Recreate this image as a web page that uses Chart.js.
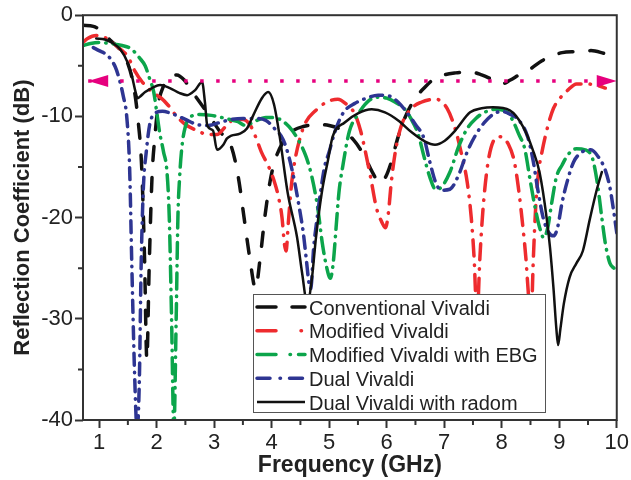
<!DOCTYPE html>
<html>
<head>
<meta charset="utf-8">
<script src="https://cdn.jsdelivr.net/npm/chart.js@4.4.1/dist/chart.umd.min.js"></script>
<style>
  html, body { margin: 0; padding: 0; background: #fff; }
</style>
</head>
<body>
<canvas id="chart" width="631" height="480"></canvas>
<script>
// Conventional Vivaldi
const convFreq = [0.72, 0.9, 1.05, 1.2, 1.35, 1.5, 1.6, 1.68, 1.74, 1.79, 1.83, 1.87, 1.92, 1.97, 2.03, 2.12, 2.22, 2.35, 2.48, 2.6, 2.75, 2.9, 3.1, 3.3, 3.42, 3.52, 3.62, 3.72, 3.8, 3.88, 3.97, 4.05, 4.2, 4.35, 4.55, 4.8, 5.0, 5.2, 5.42, 5.6, 5.75, 5.88, 5.98, 6.08, 6.2, 6.35, 6.5, 6.65, 6.8, 7.0, 7.2, 7.45, 7.65, 7.85, 8.0, 8.15, 8.3, 8.5, 8.7, 8.85, 9.05, 9.3, 9.55, 9.8];
const convDb = [-1.0, -1.1, -1.6, -2.5, -3.3, -4.8, -7.0, -10.5, -15, -24, -34, -25, -16, -12, -8.8, -7.0, -6.2, -5.9, -6.4, -7.4, -8.6, -9.8, -11.5, -13, -16, -20, -24, -27, -24, -20, -16.5, -14.5, -12.5, -11.5, -11.0, -10.8, -10.9, -11.3, -12.3, -13.8, -15.5, -16.6, -16.0, -14.5, -12, -9.7, -8.2, -7.2, -6.4, -5.9, -5.7, -5.6, -5.9, -6.4, -6.8, -6.4, -5.9, -5.3, -4.5, -4.1, -3.7, -3.6, -3.5, -3.8];

// Modified Vivaldi
const modFreq = [0.72, 0.8, 0.95, 1.1, 1.25, 1.4, 1.5, 1.62, 1.75, 1.85, 1.95, 2.08, 2.2, 2.35, 2.5, 2.7, 2.9, 3.05, 3.2, 3.35, 3.5, 3.62, 3.72, 3.82, 3.95, 4.05, 4.12, 4.18, 4.22, 4.25, 4.29, 4.34, 4.4, 4.5, 4.6, 4.75, 4.95, 5.15, 5.3, 5.45, 5.55, 5.63, 5.72, 5.82, 5.92, 5.98, 6.03, 6.08, 6.15, 6.25, 6.4, 6.6, 6.85, 7.05, 7.2, 7.3, 7.4, 7.47, 7.52, 7.57, 7.62, 7.67, 7.75, 7.85, 7.97, 8.12, 8.22, 8.3, 8.36, 8.42, 8.47, 8.51, 8.55, 8.59, 8.64, 8.7, 8.8, 8.9, 9.0, 9.15, 9.3, 9.5, 9.7, 9.8];
const modDb = [-2.7, -2.3, -2.0, -2.2, -2.8, -3.5, -4.1, -5.5, -6.6, -7.2, -7.7, -8.2, -8.9, -10.0, -10.8, -11.4, -11.8, -11.8, -11.0, -10.3, -10.3, -10.8, -12, -13.5, -15, -16.5, -18, -20, -22.5, -23.3, -20.5, -17, -14.5, -12, -10.5, -9.5, -8.6, -8.3, -8.8, -9.8, -11.5, -13.5, -16, -19, -20.5, -21, -19.5, -16.5, -13.5, -11, -9.4, -8.6, -8.3, -9.2, -11.4, -13.7, -16.5, -20, -24, -30, -24, -19.5, -15, -12.5, -12.0, -12.8, -14.5, -17.5, -20.5, -24, -28, -30, -24, -19, -15.5, -13.5, -11, -9.2, -8.3, -7.4, -6.8, -6.8, -7.0, -7.2];

// Modified Vivaldi with EBG
const ebgFreq = [0.72, 0.85, 1.0, 1.2, 1.4, 1.55, 1.7, 1.8, 1.88, 1.95, 2.0, 2.05, 2.12, 2.18, 2.22, 2.26, 2.3, 2.34, 2.37, 2.4, 2.44, 2.5, 2.6, 2.75, 2.95, 3.2, 3.4, 3.55, 3.7, 3.9, 4.1, 4.3, 4.45, 4.6, 4.7, 4.8, 4.88, 4.96, 5.02, 5.07, 5.12, 5.17, 5.24, 5.35, 5.5, 5.7, 5.85, 6.0, 6.15, 6.3, 6.42, 6.55, 6.65, 6.75, 6.85, 6.95, 7.1, 7.25, 7.4, 7.55, 7.7, 7.9, 8.1, 8.2, 8.3, 8.4, 8.5, 8.58, 8.66, 8.73, 8.8, 8.87, 8.95, 9.05, 9.15, 9.3, 9.45, 9.58, 9.66, 9.74, 9.8, 9.88, 9.95];
const ebgDb = [-3.0, -2.8, -2.7, -2.8, -3.0, -3.3, -4.2, -5.0, -6.3, -7.6, -9.5, -11.5, -13.5, -15.5, -20, -30, -41, -30, -20, -16, -13, -11, -10, -9.8, -9.9, -10.2, -10.5, -10.9, -10.5, -10.1, -10.2, -11.0, -12.2, -14, -16, -19, -22.5, -25, -26, -24.5, -21, -17.5, -14.8, -11.5, -9.8, -8.4, -8.1, -8.2, -8.6, -9.2, -10.2, -11.8, -14, -16, -17.2, -17.0, -15.5, -13, -11.2, -10.2, -9.6, -9.3, -9.6, -10.5, -11.8, -13.2, -16.5, -19, -21, -22, -21, -18.5, -16, -14.8, -13.8, -13.2, -13.3, -14.2, -16.5, -20, -22.5, -24.5, -25];

// Dual Vivaldi
const dualFreq = [0.9, 1.0, 1.15, 1.28, 1.36, 1.42, 1.48, 1.53, 1.57, 1.62, 1.66, 1.7, 1.73, 1.77, 1.82, 1.88, 1.95, 2.1, 2.3, 2.5, 2.7, 2.9, 3.1, 3.3, 3.5, 3.7, 3.9, 4.05, 4.2, 4.3, 4.4, 4.48, 4.55, 4.6, 4.65, 4.68, 4.73, 4.78, 4.85, 4.92, 5.0, 5.1, 5.25, 5.45, 5.65, 5.85, 6.05, 6.2, 6.35, 6.5, 6.65, 6.75, 6.85, 6.95, 7.1, 7.25, 7.4, 7.55, 7.7, 7.85, 8.0, 8.15, 8.3, 8.45, 8.55, 8.62, 8.72, 8.82, 8.9, 8.97, 9.05, 9.15, 9.25, 9.4, 9.55, 9.68, 9.8, 9.88, 9.95, 10.0];
const dualDb = [-3.2, -3.5, -4.0, -5.1, -6.5, -8.0, -10, -15, -25, -36, -41, -36, -25, -17, -13.5, -10.8, -9.8, -9.5, -9.8, -10.3, -10.8, -10.9, -10.6, -10.3, -10.2, -10.2, -10.4, -11.2, -12.3, -14, -16.5, -19, -21.5, -24, -26.5, -27, -23, -20.5, -17.5, -15, -13.5, -11.5, -9.6, -8.7, -8.2, -7.9, -8.0, -8.6, -9.6, -10.8, -12.2, -14.5, -16.5, -17.3, -17.2, -15.8, -13.5, -11.8, -10.6, -9.8, -9.5, -9.8, -10.4, -12, -14.5, -17, -20, -21.5, -21.8, -21, -18.5, -16.2, -14.5, -13.5, -13.3, -14, -15.3, -17, -19.5, -21.5];

// Dual Vivaldi with radom
const radomFreq = [0.95, 1.1, 1.25, 1.37, 1.49, 1.57, 1.63, 1.67, 1.72, 1.8, 1.92, 2.06, 2.23, 2.4, 2.53, 2.67, 2.79, 2.84, 2.88, 2.98, 3.05, 3.16, 3.22, 3.3, 3.45, 3.57, 3.68, 3.83, 3.94, 4.04, 4.14, 4.28, 4.44, 4.53, 4.62, 4.7, 4.77, 4.87, 4.98, 5.06, 5.27, 5.5, 5.74, 5.97, 6.2, 6.44, 6.67, 6.84, 7.01, 7.19, 7.45, 7.65, 7.85, 8.14, 8.37, 8.54, 8.66, 8.78, 8.84, 8.9, 8.95, 8.98, 9.02, 9.08, 9.18, 9.3, 9.41, 9.53, 9.65, 9.74];
const radomDb = [-2.3, -2.4, -2.8, -3.4, -4.6, -6.0, -7.5, -8.2, -8.0, -7.6, -7.2, -6.9, -7.2, -7.7, -7.9, -7.4, -6.6, -8.6, -10.9, -11.4, -13.3, -12.8, -12.2, -11.9, -11.7, -11.2, -9.9, -8.2, -7.6, -8.8, -12, -17.6, -21.9, -25.5, -28.5, -26, -22, -17.6, -14.3, -12, -10.6, -9.7, -9.3, -9.6, -10.4, -11.6, -12.5, -12.8, -12.4, -11.4, -9.6, -9.2, -9.1, -9.4, -11, -13.3, -15.6, -20, -23, -27, -31, -32.6, -31, -28.5, -25.9, -24.5, -23.3, -20.2, -17.3, -15.5];

// -6.5 dB reference line with arrows
const markerFreq = [0.81, 10];
const markerDb = -6.5;

const seriesLabels = ['Conventional Vivaldi', 'Modified Vivaldi', 'Modified Vivaldi with EBG', 'Dual Vivaldi', 'Dual Vivaldi with radom'];

const toPoints = (xs, ys) => xs.map((x, i) => ({ x: x, y: ys[i] }));
const fontFamily = "'Liberation Sans', Arial, sans-serif";
const magenta = '#E6007E';

const legendDashes = [[19, 16], [19, 25, 0.5, 20], [19, 14, 0.5, 8], [13, 10, 0.5, 9], []];

const decorations = {
  id: 'decorations',
  afterDatasetsDraw(chart) {
    const { ctx, scales: { x, y } } = chart;
    const py = y.getPixelForValue(markerDb);
    ctx.save();
    ctx.fillStyle = magenta;
    [[x.getPixelForValue(markerFreq[0]), 1], [x.getPixelForValue(markerFreq[1]), -1]].forEach(([tip, dir]) => {
      ctx.beginPath();
      ctx.moveTo(tip, py);
      ctx.lineTo(tip + dir * 20, py - 6);
      ctx.lineTo(tip + dir * 20, py + 6);
      ctx.closePath();
      ctx.fill();
    });
    ctx.restore();
  },
  afterDraw(chart) {
    const { ctx, chartArea: a, scales: { x, y } } = chart;
    ctx.save();
    // frame
    ctx.strokeStyle = '#333';
    ctx.lineWidth = 2;
    ctx.strokeRect(a.left, a.top, a.right - a.left, a.bottom - a.top);
    // minor ticks
    ctx.beginPath();
    for (let v = 1.5; v < 10; v += 1) {
      const px = x.getPixelForValue(v);
      ctx.moveTo(px, a.bottom);
      ctx.lineTo(px, a.bottom + 5);
    }
    for (let v = -35; v < 0; v += 10) {
      const py = y.getPixelForValue(v);
      ctx.moveTo(a.left, py);
      ctx.lineTo(a.left - 5, py);
    }
    ctx.stroke();

    // legend box
    const L = 253, T = 294, R = 546, B = 413;
    ctx.fillStyle = '#fff';
    ctx.fillRect(L, T, R - L, B - T);
    ctx.strokeStyle = '#555';
    ctx.lineWidth = 1;
    ctx.strokeRect(L + 0.5, T + 0.5, R - L - 1, B - T - 1);
    ctx.font = '20px ' + fontFamily;
    ctx.textBaseline = 'alphabetic';
    chart.data.datasets.forEach((ds, i) => {
      if (!ds.label) return;
      const yy = 307 + i * 23.75;
      ctx.strokeStyle = ds.borderColor;
      ctx.lineWidth = ds.borderWidth;
      ctx.lineCap = ds.borderDash && ds.borderDash.length ? 'round' : 'butt';
      ctx.setLineDash(legendDashes[i]);
      ctx.beginPath();
      ctx.moveTo(257, yy);
      ctx.lineTo(305, yy);
      ctx.stroke();
      ctx.setLineDash([]);
      ctx.fillStyle = '#222';
      ctx.fillText(ds.label, 309, yy + 7.5);
    });
    ctx.restore();
  }
};

new Chart(document.getElementById('chart'), {
  type: 'line',
  data: {
    datasets: [
      { label: seriesLabels[0], data: toPoints(convFreq, convDb), borderColor: '#111', borderWidth: 3.5, borderDash: [14, 17], order: 5 },
      { label: seriesLabels[1], data: toPoints(modFreq, modDb), borderColor: '#EE2B2E', borderWidth: 3.5, borderDash: [16, 9, 0.5, 9], order: 4 },
      { label: seriesLabels[2], data: toPoints(ebgFreq, ebgDb), borderColor: '#0CA54B', borderWidth: 3.5, borderDash: [16, 7, 0.5, 7], order: 3 },
      { label: seriesLabels[3], data: toPoints(dualFreq, dualDb), borderColor: '#2E3592', borderWidth: 3.5, borderDash: [12, 7, 0.5, 7], order: 2 },
      { label: seriesLabels[4], data: toPoints(radomFreq, radomDb), borderColor: '#111', borderWidth: 2.5, borderDash: [], order: 1 },
      { label: '', data: markerFreq.map(f => ({ x: f, y: markerDb })), borderColor: magenta, borderWidth: 3.5, borderDash: [3.5, 12.5], borderCapStyle: 'butt', cubicInterpolationMode: 'default', order: 0 }
    ]
  },
  options: {
    responsive: false,
    animation: false,
    layout: { padding: { top: 15, right: 14, left: 0, bottom: 0 } },
    elements: {
      point: { radius: 0 },
      line: { borderCapStyle: 'round', borderJoinStyle: 'round', cubicInterpolationMode: 'monotone', fill: false }
    },
    plugins: { legend: { display: false }, tooltip: { enabled: false } },
    scales: {
      x: {
        type: 'linear',
        min: 0.72,
        max: 10,
        afterFit: s => { s.height = 60; },
        border: { display: false },
        grid: { drawOnChartArea: false, drawTicks: true, tickLength: 8, tickWidth: 2, tickColor: '#333' },
        ticks: { stepSize: 1, includeBounds: false, maxRotation: 0, padding: 2, color: '#222', font: { family: fontFamily, size: 22 } },
        title: { display: true, text: 'Frequency (GHz)', color: '#222', font: { family: fontFamily, size: 23, weight: 'bold' }, padding: { top: 0, bottom: 1 } }
      },
      y: {
        type: 'linear',
        min: -40,
        max: 0,
        afterFit: s => { s.width = 83; },
        border: { display: false },
        grid: { drawOnChartArea: false, drawTicks: true, tickLength: 8, tickWidth: 2, tickColor: '#333' },
        ticks: { stepSize: 10, padding: 2, color: '#222', font: { family: fontFamily, size: 22 } },
        title: { display: true, text: 'Reflection Coefficient (dB)', color: '#222', font: { family: fontFamily, size: 22, weight: 'bold' }, padding: { top: 10, bottom: 0 } }
      }
    }
  },
  plugins: [decorations]
});
</script>
</body>
</html>
